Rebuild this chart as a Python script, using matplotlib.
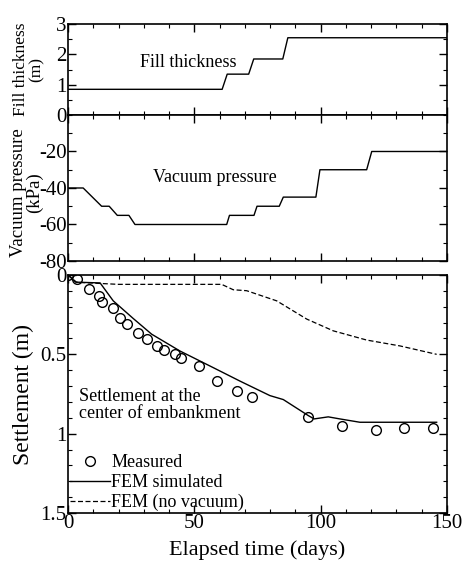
import matplotlib
matplotlib.use("Agg")
import matplotlib.pyplot as plt
from matplotlib.ticker import MultipleLocator

plt.rcParams['font.family'] = ['Liberation Serif', 'DejaVu Serif']
plt.rcParams['axes.unicode_minus'] = False

# fill thickness (m) vs time (days)
fill_t = [0, 61, 63, 71.5, 73.5, 85, 87, 150]
fill_h = [0.85, 0.85, 1.35, 1.35, 1.85, 1.85, 2.55, 2.55]

# vacuum pressure (kPa)
vac_t = [0, 6, 13.3, 16.3, 19.5, 24.1, 26.5, 62.8, 63.9, 73.6, 74.8, 83.6, 85.2, 98.1, 99.7, 118.2, 120.2, 150]
vac_p = [-40, -40, -50, -50, -55, -55, -60, -60, -55, -55, -50, -50, -45, -45, -30, -30, -20, -20]

# measured settlement (m)
meas_t = [0, 3.7, 8.4, 12.1, 13.6, 17.7, 20.6, 23.5, 27.6, 31.1, 35.1, 38.1, 42.3, 44.6,
          51.8, 58.8, 66.8, 72.7, 94.8, 108.3, 121.9, 133.1, 144.3]
meas_s = [0, 0.025, 0.089, 0.13, 0.169, 0.211, 0.274, 0.306, 0.365, 0.405, 0.447, 0.47, 0.496, 0.521,
          0.574, 0.669, 0.734, 0.768, 0.897, 0.954, 0.975, 0.966, 0.964]

# FEM simulated
fem_t = [0, 3, 12.7, 17.9, 25.8, 33.1, 44.3, 57.5, 68.1, 79.9, 85.2, 95.1, 97.4, 103, 107.6, 115.5, 145.9]
fem_s = [0, 0.045, 0.05, 0.163, 0.274, 0.373, 0.479, 0.584, 0.669, 0.76, 0.785, 0.886, 0.907, 0.894, 0.907, 0.928, 0.928]

# FEM without vacuum
nov_t = [0, 3.4, 20, 60.8, 65.4, 70.7, 82.6, 94.5, 105, 118.2, 131.4, 145.9]
nov_s = [0, 0.046, 0.059, 0.059, 0.093, 0.099, 0.163, 0.278, 0.352, 0.41, 0.447, 0.5]

fig = plt.figure(figsize=(4.64, 5.67), dpi=100)
left, width = 0.1466, 0.8168
ax1 = fig.add_axes([left, 0.797, width, 0.1605])
ax2 = fig.add_axes([left, 0.5397, width, 0.2575])
ax3 = fig.add_axes([left, 0.0952, width, 0.4198])

tick_fs = 15
for ax in (ax1, ax2, ax3):
    ax.set_xlim(0, 150)
    ax.xaxis.set_major_locator(MultipleLocator(50))
    ax.xaxis.set_minor_locator(MultipleLocator(10))
    ax.tick_params(which='both', direction='in', top=True, right=True, labelsize=tick_fs, pad=1)
    ax.tick_params(which='major', length=6, width=1)
    ax.tick_params(which='minor', length=3, width=0.8)
    for sp in ax.spines.values():
        sp.set_linewidth(1.2)

ax1.plot(fill_t, fill_h, color='black', lw=1)
ax1.set_ylim(0, 3)
ax1.yaxis.set_major_locator(MultipleLocator(1))
ax1.yaxis.set_minor_locator(MultipleLocator(0.5))
ax1.tick_params(labelbottom=False)
ax1.set_ylabel('Fill thickness\n(m)', fontsize=12.5, linespacing=0.9)
ax1.yaxis.set_label_coords(-0.063, 0.5)
ax1.text(47.5, 1.75, 'Fill thickness', fontsize=13, ha='center', va='center')

ax2.plot(vac_t, vac_p, color='black', lw=1)
ax2.set_ylim(-80, 0)
ax2.set_yticks([-80, -60, -40, -20])
ax2.yaxis.set_minor_locator(MultipleLocator(10))
ax2.tick_params(labelbottom=False)
ax2.set_ylabel('Vacuum pressure\n(kPa)', fontsize=13.5, linespacing=0.9)
ax2.yaxis.set_label_coords(-0.066, 0.47)
ax2.text(58, -34, 'Vacuum pressure', fontsize=13, ha='center', va='center')

ax3.plot(meas_t, meas_s, 'o', mfc='none', mec='black', ms=7, mew=1, label='Measured')
ax3.plot(fem_t, fem_s, '-', color='black', lw=1, label='FEM simulated')
ax3.plot(nov_t, nov_s, '--', color='black', lw=0.9, dashes=(4, 2), label='FEM (no vacuum)')
ax3.set_ylim(1.5, 0)
ax3.set_yticks([0, 0.5, 1, 1.5])
ax3.set_yticklabels(['0', '0.5', '1', '1.5'])
ax3.yaxis.set_minor_locator(MultipleLocator(0.1))
ax3.set_ylabel('Settlement (m)', fontsize=17)
ax3.yaxis.set_label_coords(-0.09, 0.5)
ax3.set_xlabel('Elapsed time (days)', fontsize=16, labelpad=5)
ax3.text(4.4, 0.82, 'Settlement at the\ncenter of embankment', fontsize=13,
         ha='left', va='center', linespacing=0.95)
ax3.legend(loc='lower left', frameon=False, fontsize=13, handlelength=2.2,
           handletextpad=0.1, borderaxespad=0.0, borderpad=0.1, labelspacing=0.15,
           markerfirst=True)

fig.savefig('out.png', dpi=100)
